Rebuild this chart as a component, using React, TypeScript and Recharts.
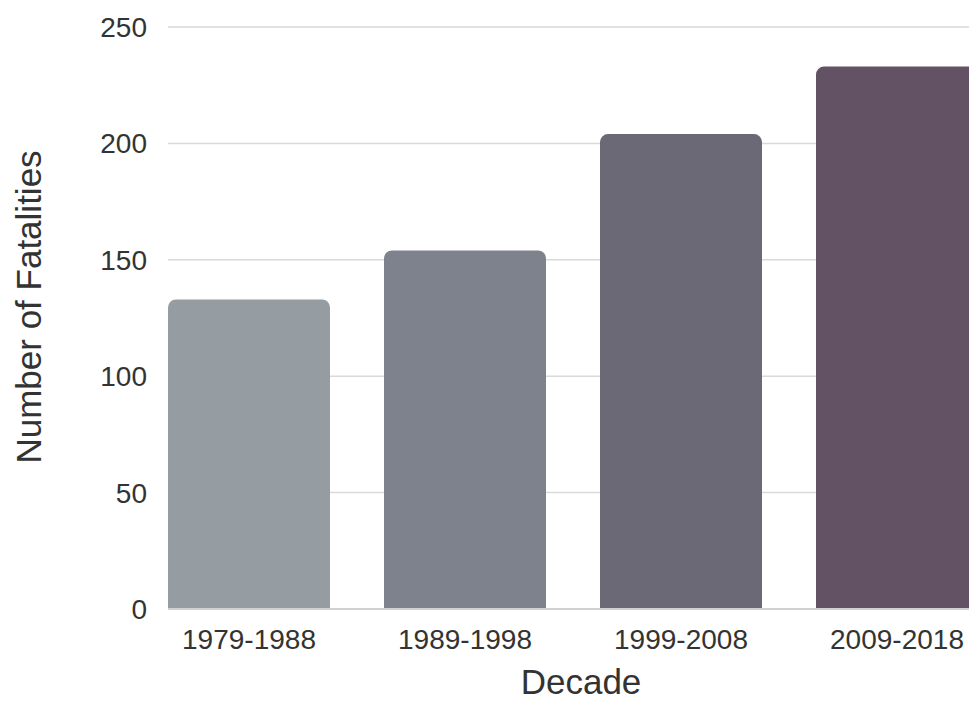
import React from 'react';
import { BarChart, Bar, XAxis, YAxis, CartesianGrid, Cell } from 'recharts';

const decades = ['1979-1988', '1989-1998', '1999-2008', '2009-2018'];
const fatalities = [133, 154, 204, 233];
const barColors = ['#959ca2', '#7d828c', '#6c6977', '#625263'];
const yTicks = [0, 50, 100, 150, 200, 250];

const data = decades.map((d, i) => ({ decade: d, value: fatalities[i] }));

const FONT = '"Liberation Sans", Arial, sans-serif';

export default function App() {
  return (
    <div style={{ position: 'fixed', left: 0, top: 0, width: 969, height: 702, overflow: 'hidden', background: '#fff' }}>
      <BarChart
        width={978}
        height={702}
        data={data}
        margin={{ top: 27, right: 0, bottom: 0, left: 0 }}
        barCategoryGap={27}
      >
        <CartesianGrid vertical={false} stroke="#d9d9d9" strokeWidth={1.5} />
        <XAxis
          dataKey="decade"
          height={93}
          padding={{ left: -27, right: -27 }}
          tickLine={false}
          tickSize={0}
          tickMargin={20}
          axisLine={{ stroke: '#d0d0d0', strokeWidth: 2 }}
          tick={{ fill: '#333', fontSize: 28, fontFamily: FONT }}
          label={{
            content: () => (
              <text x={581} y={694} textAnchor="middle" fill="#333" fontSize={35} fontFamily={FONT}>
                Decade
              </text>
            ),
          }}
        />
        <YAxis
          width={168}
          domain={[0, 250]}
          ticks={yTicks}
          tickLine={false}
          axisLine={false}
          tickSize={0}
          tickMargin={21}
          tick={{ fill: '#333', fontSize: 28, fontFamily: FONT }}
          label={{
            content: () => (
              <text
                x={41}
                y={307}
                textAnchor="middle"
                fill="#333"
                fontSize={35}
                fontFamily={FONT}
                transform="rotate(-90 41 307)"
              >
                Number of Fatalities
              </text>
            ),
          }}
        />
        <Bar dataKey="value" radius={[8, 8, 0, 0]} isAnimationActive={false}>
          {data.map((d, i) => (
            <Cell key={d.decade} fill={barColors[i]} />
          ))}
        </Bar>
      </BarChart>
    </div>
  );
}
